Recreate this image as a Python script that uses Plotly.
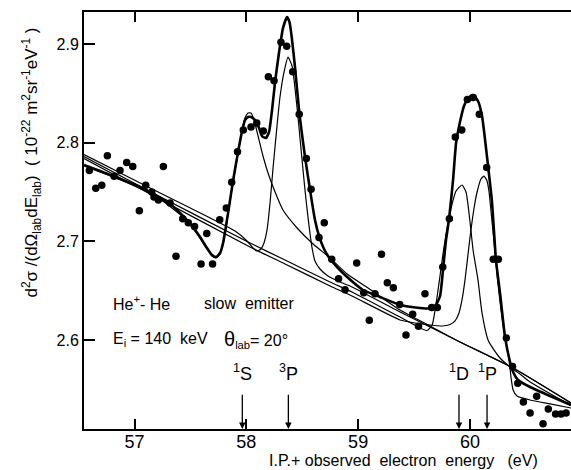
import plotly.graph_objects as go

# ---------------- data ----------------
# measured points: electron energy (eV) and cross section
energy_dots = [56.596, 56.653, 56.707, 56.757, 56.817, 56.870, 56.930, 56.984, 57.043, 57.100,
               57.154, 57.174, 57.213, 57.258, 57.318, 57.371, 57.431, 57.481, 57.537, 57.595,
               57.646, 57.698, 57.762, 57.821, 57.869, 57.921, 57.973, 58.042, 58.093, 58.152,
               58.197, 58.248, 58.310, 58.361, 58.415, 58.473, 58.537, 58.579, 58.697, 58.650,
               58.764, 58.825, 58.883, 58.987, 59.209, 59.050, 59.151, 59.100, 59.261, 59.315,
               59.372, 59.428, 59.488, 59.540, 59.598, 59.658, 59.708, 59.757, 59.816, 59.869,
               59.927, 59.977, 60.030, 60.084, 60.150, 60.209, 60.254, 60.326, 60.381, 60.428,
               60.478, 60.538, 60.597, 60.654, 60.701, 60.766, 60.815, 60.860]
sigma_dots = [2.772, 2.754, 2.757, 2.787, 2.766, 2.772, 2.780, 2.776, 2.731, 2.757,
              2.750, 2.745, 2.742, 2.776, 2.739, 2.685, 2.723, 2.719, 2.715, 2.677,
              2.708, 2.677, 2.722, 2.734, 2.760, 2.791, 2.813, 2.816, 2.820, 2.812,
              2.867, 2.863, 2.902, 2.898, 2.872, 2.829, 2.784, 2.753, 2.719, 2.704,
              2.682, 2.662, 2.651, 2.678, 2.687, 2.648, 2.647, 2.620, 2.658, 2.653,
              2.636, 2.605, 2.626, 2.614, 2.647, 2.633, 2.633, 2.674, 2.723, 2.806,
              2.813, 2.844, 2.846, 2.829, 2.775, 2.682, 2.682, 2.602, 2.573, 2.556,
              2.537, 2.526, 2.543, 2.515, 2.530, 2.525, 2.525, 2.526]

# total fit (thick curve)
total_x = [56.548, 56.691, 56.897, 57.049, 57.201, 57.318, 57.434, 57.514, 57.586, 57.648,
           57.693, 57.729, 57.765, 57.792, 57.818, 57.845, 57.881, 57.926, 57.962, 57.988,
           58.015, 58.042, 58.078, 58.114, 58.140, 58.176, 58.203, 58.230, 58.257, 58.293,
           58.328, 58.364, 58.386, 58.406, 58.435, 58.474, 58.525, 58.570, 58.614, 58.653,
           58.695, 58.749, 58.820, 58.892, 59.044, 59.196, 59.375, 59.554, 59.643, 59.696,
           59.733, 59.759, 59.786, 59.813, 59.849, 59.876, 59.911, 59.947, 59.983, 60.028,
           60.072, 60.108, 60.153, 60.198, 60.233, 60.269, 60.314, 60.359, 60.386, 60.430,
           60.538, 60.717, 60.904]
total_y = [2.7775, 2.7714, 2.7623, 2.7552, 2.7460, 2.7379, 2.7258, 2.7156, 2.7045, 2.6933,
           2.6862, 2.6842, 2.6882, 2.6984, 2.7156, 2.7349, 2.7613, 2.7907, 2.8120, 2.8231,
           2.8262, 2.8262, 2.8231, 2.8150, 2.8069, 2.8049, 2.8110, 2.8333, 2.8617, 2.8921,
           2.9164, 2.9276, 2.9225, 2.9073, 2.8769, 2.8302, 2.7856, 2.7521, 2.7217, 2.7045,
           2.6923, 2.6822, 2.6730, 2.6649, 2.6507, 2.6436, 2.6355, 2.6325, 2.6320, 2.6355,
           2.6446, 2.6710, 2.7014, 2.7227, 2.7623, 2.7998, 2.8211, 2.8373, 2.8454, 2.8485,
           2.8424, 2.8272, 2.7856, 2.7389, 2.6811, 2.6477, 2.6030, 2.5777, 2.5675, 2.5594,
           2.5523, 2.5432, 2.5341]

# component 1S (thin)
s1_x = [56.548, 56.897, 57.201, 57.434, 57.514, 57.586, 57.648, 57.693, 57.729, 57.765,
        57.792, 57.818, 57.845, 57.881, 57.926, 57.962, 57.988, 58.015, 58.042, 58.069,
        58.105, 58.149, 58.194, 58.257, 58.328, 58.454, 58.597, 58.749, 58.901, 59.089,
        59.375, 59.643, 59.911, 60.386, 60.904]
s1_y = [2.7765, 2.7613, 2.7450, 2.7247, 2.7146, 2.7034, 2.6923, 2.6852, 2.6832, 2.6872,
        2.6974, 2.7146, 2.7339, 2.7602, 2.7897, 2.8120, 2.8252, 2.8302, 2.8302, 2.8231,
        2.8069, 2.7866, 2.7694, 2.7501, 2.7318, 2.7136, 2.6974, 2.6832, 2.6669, 2.6527,
        2.6304, 2.6142, 2.5980, 2.5716, 2.5361]

# component 3P (thin)
p3_x = [56.548, 57.139, 57.899, 58.006, 58.060, 58.096, 58.131, 58.158, 58.185, 58.212,
        58.239, 58.275, 58.301, 58.337, 58.373, 58.409, 58.427, 58.454, 58.480, 58.507,
        58.534, 58.561, 58.588, 58.614, 58.659, 58.730, 58.838, 58.945, 59.375, 59.911,
        60.386, 60.904]
p3_y = [2.7881, 2.7542, 2.7105, 2.7004, 2.6933, 2.6903, 2.6923, 2.6984, 2.7116, 2.7389,
        2.7744, 2.8180, 2.8465, 2.8718, 2.8870, 2.8779, 2.8637, 2.8353, 2.8049, 2.7724,
        2.7420, 2.7156, 2.6933, 2.6801, 2.6720, 2.6649, 2.6588, 2.6538, 2.6284, 2.5980,
        2.5716, 2.5361]

# component 1D (thin)
d1_x = [56.548, 57.139, 58.033, 58.346, 58.749, 58.945, 59.375, 59.617, 59.662, 59.706,
        59.742, 59.768, 59.822, 59.876, 59.929, 59.965, 60.001, 60.028, 60.072, 60.108,
        60.162, 60.215, 60.269, 60.359, 60.448, 60.538, 60.904]
d1_y = [2.7861, 2.7506, 2.6984, 2.6811, 2.6588, 2.6487, 2.6233, 2.6096, 2.6152, 2.6436,
        2.6730, 2.6943, 2.7288, 2.7511, 2.7572, 2.7501, 2.7197, 2.6913, 2.6609, 2.6274,
        2.6000, 2.5899, 2.5817, 2.5726, 2.5655, 2.5574, 2.5336]

# component 1P (thin)
pp1_x = [56.548, 57.139, 58.033, 58.346, 58.749, 58.945, 59.375, 59.509, 59.643, 59.750,
         59.822, 59.867, 59.902, 59.929, 59.956, 60.001, 60.037, 60.064, 60.099, 60.126,
         60.153, 60.171, 60.198, 60.225, 60.247, 60.278, 60.314, 60.350, 60.368, 60.386,
         60.421, 60.538, 60.717, 60.904]
pp1_y = [2.7841, 2.7481, 2.6943, 2.6771, 2.6548, 2.6446, 2.6203, 2.6172, 2.6152, 2.6142,
         2.6157, 2.6193, 2.6274, 2.6406, 2.6609, 2.7045, 2.7339, 2.7501, 2.7633, 2.7663,
         2.7613, 2.7501, 2.7197, 2.6882, 2.6609, 2.6304, 2.6020, 2.5797, 2.5615, 2.5493,
         2.5432, 2.5391, 2.5351, 2.5310]

# autoionising states marked on the energy axis
state_labels = ["<sup>1</sup>S", "<sup>3</sup>P", "<sup>1</sup>D", "<sup>1</sup>P"]
state_energies = [57.964, 58.376, 59.902, 60.153]

x_ticks = [57, 58, 59, 60]
y_ticks = [2.6, 2.7, 2.8, 2.9]
y_tick_text = ["2.6", "2.7", "2.8", "2.9"]

x_range = [56.548, 60.904]
y_range = [2.5097, 2.9327]

# ---------------- figure ----------------
FONT = "Liberation Sans"
fig = go.Figure()

thin = dict(color="black", width=1.2, shape="spline", smoothing=0.5)
for xs, ys, nm in [(s1_x, s1_y, "1S"), (p3_x, p3_y, "3P"), (d1_x, d1_y, "1D"), (pp1_x, pp1_y, "1P")]:
    fig.add_trace(go.Scatter(x=xs, y=ys, mode="lines", line=thin, name=nm, hoverinfo="skip"))

fig.add_trace(go.Scatter(x=total_x, y=total_y, mode="lines",
                         line=dict(color="black", width=2.6, shape="spline", smoothing=0.5),
                         name="total"))
fig.add_trace(go.Scatter(x=energy_dots, y=sigma_dots, mode="markers",
                         marker=dict(color="black", size=7.5), name="data"))

ann = []
tf = dict(family=FONT, size=16, color="black")
ann.append(dict(x=56.79, y=2.6375, xref="x", yref="y", xanchor="left", yanchor="middle",
                text="He<sup>+</sup>- He", showarrow=False, font=tf))
ann.append(dict(x=57.601, y=2.6375, xref="x", yref="y", xanchor="left", yanchor="middle",
                text="slow\u00a0 emitter", showarrow=False, font=tf))
ann.append(dict(x=56.79, y=2.601, xref="x", yref="y", xanchor="left", yanchor="middle",
                text="E<sub>i</sub> = 140\u00a0 keV", showarrow=False, font=tf))
ann.append(dict(x=57.783, y=2.601, xref="x", yref="y", xanchor="left", yanchor="middle",
                text="<span style='font-size:20px'>θ</span><sub>lab</sub>= 20°", showarrow=False, font=tf))

for lab, e in zip(state_labels, state_energies):
    ann.append(dict(x=e, y=2.567, xref="x", yref="y", xanchor="center", yanchor="middle",
                    text=lab, showarrow=False, font=dict(family=FONT, size=18, color="black")))
    ann.append(dict(x=e, y=y_range[0], ax=e, ay=2.546, xref="x", yref="y", axref="x", ayref="y",
                    text="", showarrow=True, arrowhead=2, arrowsize=1, arrowwidth=1.3,
                    arrowcolor="black"))

ann.append(dict(x=0.656, y=-0.075, xref="paper", yref="paper", xanchor="center", yanchor="middle",
                text="I.P.+ observed\u00a0 electron\u00a0 energy\u00a0\u00a0 (eV)", showarrow=False,
                font=dict(family=FONT, size=16, color="black")))
ann.append(dict(x=-0.108, y=0.64, xref="paper", yref="paper", xanchor="center", yanchor="middle",
                textangle=-90, showarrow=False, font=dict(family=FONT, size=17, color="black"),
                text="d<sup>2</sup>σ /(dΩ<sub>lab</sub>dE<sub>lab</sub>)  ( 10<sup>-22</sup> m<sup>2</sup>sr<sup>-1</sup>eV<sup>-1</sup> )"))

axis_common = dict(showgrid=False, zeroline=False, ticks="inside", tickwidth=2, tickcolor="black",
                   linecolor="black", linewidth=2, showline=True)
fig.update_layout(
    width=571, height=470,
    margin=dict(l=84, r=0, t=12, b=41),
    paper_bgcolor="white", plot_bgcolor="white",
    showlegend=False,
    font=dict(family=FONT, color="black"),
    xaxis=dict(range=x_range, tickvals=x_ticks, ticklen=10, ticklabelstandoff=-5, mirror="ticks",
               tickfont=dict(family=FONT, size=18, color="black"), **axis_common),
    yaxis=dict(range=y_range, tickvals=y_ticks, ticktext=y_tick_text, ticklen=11,
               tickfont=dict(family=FONT, size=16, color="black"), **axis_common),
    annotations=ann,
)

fig.write_html("out.html", config={"displayModeBar": False},
               post_script="document.body.style.margin='0px';document.body.style.overflow='hidden';")
